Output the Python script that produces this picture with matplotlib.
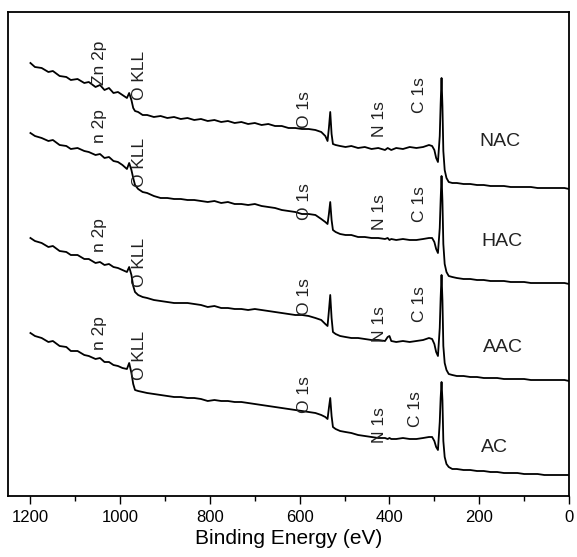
import numpy as np
import matplotlib
matplotlib.use("Agg")
import matplotlib.pyplot as plt
from matplotlib.ticker import MultipleLocator

plt.rcParams["font.family"] = ["Liberation Sans", "DejaVu Sans"]

# binding energy (eV), shared by all four spectra
energy = [
    1200, 1190, 1175, 1160, 1150, 1135, 1120, 1110, 1095, 1080,
    1070, 1055, 1045, 1035, 1025, 1015, 1005, 995, 985, 980,
    975, 971, 967, 960, 950, 940, 925, 910, 895, 880,
    865, 850, 835, 820, 805, 790, 775, 760, 745, 730,
    715, 700, 685, 670, 655, 640, 625, 610, 595, 580,
    565, 552, 543, 538, 535, 532, 529, 526, 520, 510,
    498, 485, 470, 455, 440, 425, 410, 404, 400, 396,
    385, 370, 355, 340, 325, 312, 305, 300, 296, 292,
    288, 286, 284, 282, 280, 277, 273, 268, 260, 250,
    235, 220, 205, 190, 175, 160, 145, 130, 115, 100,
    85, 70, 55, 40, 25, 10, 0,
]

# intensities (a.u., already offset for stacking)
nac = [
    433, 429, 428, 424, 425, 420, 419, 416, 417, 413,
    414, 409, 411, 406, 408, 403, 404, 401, 398, 403,
    396, 388, 385, 384, 381, 381, 379, 380, 378, 379,
    377, 378, 376, 377, 375, 376, 374, 375, 373, 374,
    372, 373, 371, 372, 370, 370, 368, 368, 367, 367,
    366, 364, 360, 355, 368, 384, 362, 352, 351, 350,
    349, 350, 348, 349, 347, 348, 346, 348, 347, 346,
    348, 347, 349, 348, 349, 351, 350, 346, 338, 334,
    360, 392, 418, 390, 345, 326, 318, 314, 313, 313,
    312, 312, 311, 311, 310, 310, 310, 309, 309, 309,
    309, 308, 308, 308, 308, 308, 307,
]
hac = [
    363, 360, 358, 355, 356, 351, 350, 347, 348, 345,
    344, 341, 342, 338, 339, 335, 334, 331, 327, 333,
    326, 318, 311, 307, 304, 303, 300, 298, 298, 297,
    297, 296, 296, 295, 294, 295, 293, 294, 292, 292,
    291, 292, 290, 289, 288, 286, 285, 284, 282, 282,
    281, 277, 274, 272, 282, 294, 276, 266, 264, 262,
    261, 261, 259, 259, 258, 258, 257, 258, 256, 257,
    256, 257, 256, 256, 257, 258, 258, 254, 247, 243,
    268, 296, 320, 295, 252, 232, 224, 220, 219, 218,
    217, 217, 216, 216, 215, 215, 215, 214, 214, 214,
    213, 213, 213, 213, 213, 213, 212,
]
aac = [
    258, 255, 253, 249, 250, 245, 244, 241, 241, 237,
    237, 233, 234, 231, 232, 229, 228, 226, 224, 229,
    221, 210, 204, 201, 199, 198, 196, 195, 194, 193,
    193, 193, 192, 191, 189, 190, 188, 188, 187, 187,
    186, 187, 186, 185, 184, 183, 182, 181, 181, 180,
    178, 176, 172, 170, 185, 201, 178, 164, 162, 160,
    159, 158, 158, 157, 156, 156, 155, 159, 160, 155,
    154, 155, 154, 155, 156, 158, 157, 152, 144, 140,
    168, 198, 221, 196, 150, 133, 126, 122, 121, 120,
    120, 119, 119, 118, 118, 118, 117, 117, 117, 117,
    116, 116, 116, 116, 116, 116, 115,
]
ac = [
    163, 160, 158, 154, 155, 150, 149, 145, 145, 141,
    140, 137, 138, 134, 134, 131, 130, 128, 127, 133,
    123, 112, 106, 105, 104, 103, 102, 101, 100, 99,
    99, 98, 98, 97, 95, 96, 95, 95, 94, 94,
    93, 92, 91, 90, 89, 88, 87, 86, 85, 84,
    83, 81, 79, 77, 88, 98, 80, 69, 67, 65,
    64, 63, 61, 60, 59, 58, 58, 57, 58, 57,
    57, 58, 57, 57, 58, 59, 59, 55, 49, 46,
    74, 98, 114, 96, 55, 39, 32, 29, 27, 27,
    26, 26, 25, 25, 24, 24, 23, 23, 23, 22,
    22, 22, 21, 21, 21, 21, 21,
]

samples = ["NAC", "HAC", "AAC", "AC"]
spectra = [nac, hac, aac, ac]

# peak label texts and where their bottom edge sits for each spectrum
zn_text = ["Zn 2p", "n 2p", "n 2p", "n 2p"]
zn_y = [411, 353, 244, 146]
okll_y = [396, 309, 209, 116]
o1s_y = [368, 276, 181, 83]
n1s_y = [359, 266, 154, 53]
c1s_y = [383, 274, 174, 69]
c1s_x = [332, 332, 334, 343]
name_x = [154, 149, 147, 165]
name_y = [354, 254, 148, 48]

fig = plt.figure(figsize=(5.77, 5.57), dpi=100)
ax = fig.add_axes([8 / 577, 1 - 496 / 557, 561 / 577, 484 / 557])

for y in spectra:
    ax.plot(energy, y, color="black", lw=1.3)

lab = dict(rotation=90, ha="center", va="bottom", fontsize=12.5, color="#222222")
for i in range(4):
    ax.text(1046, zn_y[i], zn_text[i], **lab)
    ax.text(957, okll_y[i], "O KLL", **lab)
    ax.text(589, o1s_y[i], "O 1s", **lab)
    ax.text(422, n1s_y[i], "N 1s", **lab)
    ax.text(c1s_x[i], c1s_y[i], "C 1s", **lab)
    ax.text(name_x[i], name_y[i], samples[i], ha="center", va="center",
            fontsize=14, color="#222222")

ax.set_xlim(1250, 0)
ax.set_ylim(0, 484)
ax.xaxis.set_major_locator(MultipleLocator(200))
ax.xaxis.set_minor_locator(MultipleLocator(100))
ax.tick_params(axis="x", which="major", direction="out", length=6, width=1,
               labelsize=12, pad=4)
ax.tick_params(axis="x", which="minor", direction="out", length=3.5, width=1)
ax.set_yticks([])
for s in ax.spines.values():
    s.set_linewidth(1.3)
ax.set_xlabel("Binding Energy (eV)", fontsize=15, labelpad=3)

fig.savefig("out.png", dpi=100)
